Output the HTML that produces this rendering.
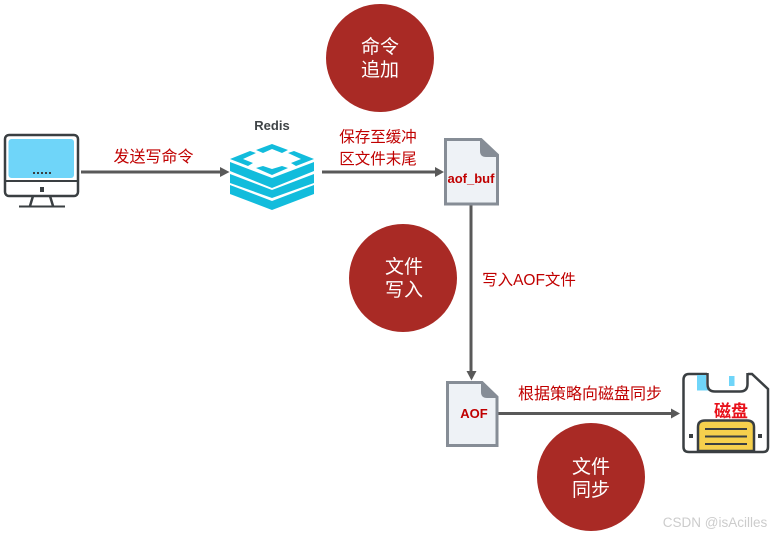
<!DOCTYPE html>
<html><head><meta charset="utf-8">
<style>
html,body{margin:0;padding:0;background:#fff;width:777px;height:535px;overflow:hidden}
svg{display:block}
text{font-family:"Liberation Sans","Noto Sans CJK SC",sans-serif}
</style></head><body>
<svg width="777" height="535" viewBox="0 0 777 535" xmlns="http://www.w3.org/2000/svg">
<rect width="777" height="535" fill="#fff"/>
<!-- circles -->
<circle cx="380" cy="58" r="54" fill="#a92a25"/>
<circle cx="403" cy="278" r="54" fill="#a92a25"/>
<circle cx="591" cy="477" r="54" fill="#a92a25"/>
<g fill="#fff" font-size="19" text-anchor="middle">
<text x="380" y="53">命令</text><text x="380" y="76">追加</text>
<text x="404" y="273">文件</text><text x="404" y="296">写入</text>
<text x="591" y="473">文件</text><text x="591" y="496">同步</text>
</g>
<!-- monitor -->
<rect x="5" y="135" width="73" height="61" rx="4" fill="#fff" stroke="#3a3f42" stroke-width="2.500"/>
<rect x="8.500" y="139" width="65.500" height="39" rx="3" fill="#6fd5f9"/>
<line x1="5" y1="181" x2="78" y2="181" stroke="#3a3f42" stroke-width="2"/>
<rect x="40" y="187" width="4" height="5" fill="#3a3f42"/>
<path d="M33 196 L30 206 M50 196 L53 206" stroke="#3a3f42" stroke-width="2.500"/>
<line x1="19" y1="206.500" x2="65" y2="206.500" stroke="#3a3f42" stroke-width="2"/>
<g fill="#3a3f42"><rect x="33" y="172" width="2" height="2"/><rect x="37" y="172" width="2" height="2"/><rect x="41" y="172" width="2" height="2"/><rect x="45" y="172" width="2" height="2"/><rect x="49" y="172" width="2" height="2"/></g>
<!-- connectors -->
<g stroke="#595959" stroke-width="3" fill="none">
<line x1="81" y1="172" x2="222" y2="172"/>
<line x1="322" y1="172" x2="438" y2="172"/>
<line x1="471" y1="205" x2="471" y2="373"/>
<line x1="496" y1="413.500" x2="673" y2="413.500"/>
</g>
<g fill="#595959">
<path d="M229.500 172 L220 167 L220 177Z"/>
<path d="M444 172 L435 167 L435 177Z"/>
<path d="M471.500 380.500 L466.500 371 L476.500 371Z"/>
<path d="M680 413.500 L671 408.500 L671 418.500Z"/>
</g>
<!-- redis -->
<text x="272" y="130" font-size="13" font-weight="bold" fill="#3f4447" text-anchor="middle">Redis</text>
<g fill="#12bcdc">
<path d="M256 150 L272 144 L288 150 L282 153 L272 149 L263 153Z"/>
<path d="M230 159 L250 151 L256 153 L243 159 L253 163 L248 166Z"/>
<path d="M314 159 L294 151 L288 153 L301 159 L291 163 L296 166Z"/>
<path d="M256 168 L263 166 L272 169 L282 166 L288 168 L272 175Z"/>
<path d="M230 162 L272 178 L314 162 L314 171 L272 188 L230 171Z"/>
<path d="M230 174 L272 190 L314 174 L314 183 L272 198 L230 183Z"/>
<path d="M230 185 L272 201 L314 185 L314 194 L272 210 L230 194Z"/>
</g>
<!-- file aof_buf -->
<path d="M445.500 139.500 L481 139.500 L497.500 155 L497.500 204 L445.500 204Z" fill="#eef2f6" stroke="#868d96" stroke-width="3"/>
<path d="M480 139 L498 155 L498 157 L486 157 Q480 157 480 151Z" fill="#868d96"/>
<text x="471" y="183" font-size="13" font-weight="bold" fill="#c00000" text-anchor="middle">aof_buf</text>
<!-- file AOF -->
<path d="M447.500 382.500 L482 382.500 L497 397 L497 445.500 L447.500 445.500Z" fill="#eef2f6" stroke="#868d96" stroke-width="3"/>
<path d="M481 382 L498 397 L498 398 L487 398 Q481 398 481 392Z" fill="#868d96"/>
<text x="474" y="418" font-size="13" font-weight="bold" fill="#c00000" text-anchor="middle">AOF</text>
<!-- disk -->
<path d="M707 374 L689 374 Q683.500 374 683.500 380 L683.500 447 Q683.500 452 689 452 L763 452 Q768 452 768 447 L768 389 L752 374 L748 374" fill="#fff" stroke="#3a3f42" stroke-width="2.500"/>
<path d="M697 375 L706 375 L706 384 Q706 388 709 390.500 L697 390.500Z" fill="#6fd5f9"/>
<rect x="729" y="376" width="5.500" height="10" fill="#6fd5f9"/>
<path d="M707.500 373 L707.500 384 Q707.500 391.500 715 391.500 L740 391.500 Q747.500 391.500 747.500 384 L747.500 373" fill="#fff" stroke="#3a3f42" stroke-width="2.500"/>
<rect x="729" y="376" width="5.500" height="10" fill="#6fd5f9"/>
<path d="M698 451 L698 427 Q698 420.500 705 420.500 L747 420.500 Q754 420.500 754 427 L754 451Z" fill="#f6d04d" stroke="#3a3f42" stroke-width="2.500"/>
<path d="M705 429 L747 429 M705 436.500 L747 436.500 M705 444 L747 444" stroke="#3a3f42" stroke-width="2"/>
<rect x="689" y="434" width="4" height="4" fill="#3a3f42"/>
<rect x="758" y="434" width="4" height="4" fill="#3a3f42"/>
<text x="731" y="417" font-size="17" font-weight="bold" fill="#e8101a" text-anchor="middle">磁盘</text>
<!-- labels -->
<g fill="#c00000" font-size="16" text-anchor="middle">
<text x="153.500" y="162">发送写命令</text>
<text x="378" y="142" font-size="15.500">保存至缓冲</text>
<text x="378" y="164" font-size="15.500">区文件末尾</text>
<text x="529" y="285" font-size="15.500">写入AOF文件</text>
<text x="590" y="399">根据策略向磁盘同步</text>
</g>
<text x="715" y="527" font-size="13.500" fill="#cccccc" text-anchor="middle">CSDN @isAcilles</text>
</svg>
</body></html>
